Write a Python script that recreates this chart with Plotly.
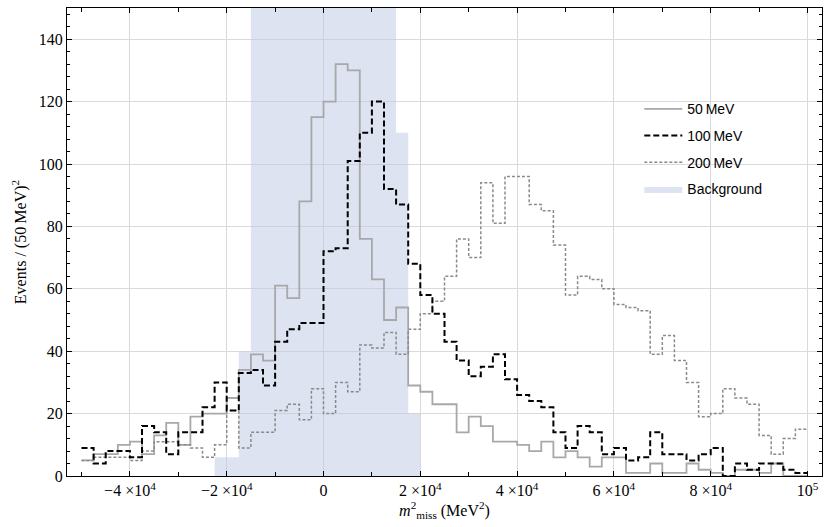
import plotly.graph_objects as go

# Histogram binning: 60 bins of 2500 MeV^2 from -5e4 to 1e5
bin_start = -50000
bin_width = 2500

mev50 = [5, 7, 7, 10, 11, 7, 13, 17, 10, 19,
         20, 20, 25, 34, 39, 37, 61, 57, 88, 115,
         120, 132, 130, 76, 63, 50, 54, 29, 27, 23,
         23, 14, 19, 16, 11, 11, 10, 8, 11, 6,
         8, 6, 3, 6, 6, 1, 1, 4, 1, 1,
         4, 2, 1, 0, 2, 2, 1, 4, 0, 0]

mev100 = [9, 4, 8, 8, 6, 16, 14, 7, 14, 14,
          22, 30, 21, 33, 34, 29, 43, 47, 49, 49,
          72, 73, 101, 110, 120, 92, 87, 68, 58, 52,
          43, 37, 32, 35, 39, 31, 26, 24, 22, 14,
          9, 16, 14, 7, 9, 5, 6, 14, 7, 7,
          5, 7, 9, 0, 4, 2, 4, 4, 2, 1]

mev200 = [5, 6, 6, 6, 5, 8, 11, 11, 10, 9,
          6, 10, 21, 9, 14, 14, 21, 23, 18, 28,
          20, 30, 27, 42, 41, 46, 39, 47, 52, 56,
          64, 76, 70, 94, 81, 96, 96, 87, 85, 74,
          58, 64, 63, 60, 55, 54, 53, 39, 45, 37,
          30, 19, 20, 28, 25, 23, 13, 7, 12, 15]

# Background: bins 11..27 (from -22500 to 20000); tall bins run off the top
bkg_first_bin = 11
background = [6, 6, 40, 200, 200, 200, 200, 200, 200, 200,
              200, 200, 200, 200, 200, 110, 20]

x_tickvals = [-40000, -20000, 0, 20000, 40000, 60000, 80000, 100000]
x_ticktext = ["\u22124 \u00d710<sup>4</sup>", "\u22122 \u00d710<sup>4</sup>", "0",
              "2 \u00d710<sup>4</sup>", "4 \u00d710<sup>4</sup>",
              "6 \u00d710<sup>4</sup>", "8 \u00d710<sup>4</sup>", "10<sup>5</sup>"]
y_tickvals = [0, 20, 40, 60, 80, 100, 120, 140]


def step_xy(first_bin, values):
    edges = [bin_start + bin_width * (first_bin + i) for i in range(len(values) + 1)]
    return edges, list(values) + [values[-1]]


fig = go.Figure()

bx, by = step_xy(bkg_first_bin, background)
fig.add_trace(go.Scatter(x=bx, y=by, mode="lines", line=dict(width=0, shape="hv"),
                         fill="tozeroy", fillcolor="rgba(187,199,225,0.5)",
                         name="Background", legendgroup="d", legendrank=4, hoverinfo="skip"))

x50, y50 = step_xy(0, mev50)
fig.add_trace(go.Scatter(x=x50, y=y50, mode="lines",
                         line=dict(color="#a8a8a8", width=1.8, shape="hv"),
                         name="50\u2009MeV", legendgroup="a", legendrank=1))

x200, y200 = step_xy(0, mev200)
fig.add_trace(go.Scatter(x=x200, y=y200, mode="lines",
                         line=dict(color="#8a8a8a", width=1.5, shape="hv", dash="3px,2px"),
                         name="200\u2009MeV", legendgroup="c", legendrank=3))

x100, y100 = step_xy(0, mev100)
fig.add_trace(go.Scatter(x=x100, y=y100, mode="lines",
                         line=dict(color="black", width=2, shape="hv", dash="6px,3px"),
                         name="100\u2009MeV", legendgroup="b", legendrank=2))

serif = "Liberation Serif"

fig.update_layout(
    width=824, height=527,
    margin=dict(l=67, r=2, t=8, b=51, autoexpand=False),
    plot_bgcolor="white", paper_bgcolor="white",
    showlegend=True,
    legend=dict(x=0.758, y=0.818, xanchor="left", yanchor="top", itemwidth=38,
                font=dict(family="Liberation Sans", size=14, color="black"),
                bgcolor="rgba(0,0,0,0)", tracegroupgap=5.5, traceorder="grouped"),
    font=dict(family=serif, color="black"),
)

fig.update_xaxes(
    range=[-53000, 103000], tickmode="array", tickvals=x_tickvals, ticktext=x_ticktext,
    ticks="inside", ticklen=5, tickwidth=1, tickcolor="black",
    showline=True, linecolor="black", linewidth=1.3, mirror="allticks",
    showgrid=True, gridcolor="#dadada", gridwidth=1, zeroline=False, automargin=False,
    tickfont=dict(family=serif, size=16, color="black"),
    minor=dict(dtick=10000, tick0=0, ticks="inside", ticklen=4, tickcolor="black", showgrid=False),
    title=dict(text="<i>m</i><sup>2</sup><sub>miss</sub> (MeV<sup>2</sup>)",
               font=dict(family=serif, size=16, color="black"), standoff=2),
)

fig.update_yaxes(
    range=[0, 150], tickmode="array", tickvals=y_tickvals,
    ticks="inside", ticklen=5, tickwidth=1, tickcolor="black",
    showline=True, linecolor="black", linewidth=1.3, mirror="allticks",
    showgrid=True, gridcolor="#dadada", gridwidth=1, zeroline=False, automargin=False,
    tickfont=dict(family=serif, size=16, color="black"),
    minor=dict(dtick=4, tick0=0, ticks="inside", ticklen=3, tickcolor="black", showgrid=False),
    title=dict(text="Events / (50\u2009MeV)<sup>2</sup>",
               font=dict(family=serif, size=16, color="black"), standoff=8),
)

fig.write_html("out.html", config={"displayModeBar": False},
               post_script="document.body.style.margin='0';")
